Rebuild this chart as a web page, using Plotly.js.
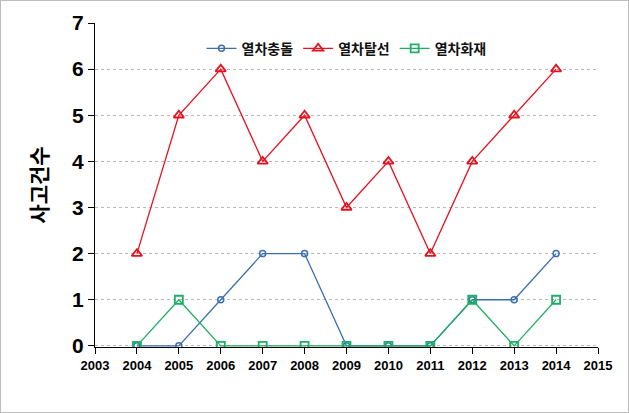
<!DOCTYPE html>
<html>
<head>
<meta charset="utf-8">
<script src="https://cdn.plot.ly/plotly-3.0.1.min.js"></script>
<style>
html,body{margin:0;padding:0;background:#fff;}
#chart{width:627px;height:411px;border:1px solid #bdbdbd;}
</style>
</head>
<body>
<div id="chart"></div>
<script>
const years = [2004, 2005, 2006, 2007, 2008, 2009, 2010, 2011, 2012, 2013, 2014];
const collision = [0, 0, 1, 2, 2, 0, 0, 0, 1, 1, 2];
const derailment = [2, 5, 6, 4, 5, 3, 4, 2, 4, 5, 6];
const fire = [0, 1, 0, 0, 0, 0, 0, 0, 1, 0, 1];
const seriesNames = ['열차충돌', '열차탈선', '열차화재'];
const xTicks = [2003, 2004, 2005, 2006, 2007, 2008, 2009, 2010, 2011, 2012, 2013, 2014, 2015];
const yTicks = [0, 1, 2, 3, 4, 5, 6, 7];

const kfont = '"Noto Sans CJK KR", "Liberation Sans", sans-serif';
const nfont = '"Liberation Sans", Arial, sans-serif';

const traces = [
  {x: years, y: collision, name: seriesNames[0], mode: 'lines+markers',
   line: {color: '#3C6FB0', width: 1.3},
   marker: {symbol: 'circle-open', size: 6, color: '#3C6FB0', line: {width: 1.5}}},
  {x: years, y: derailment, name: seriesNames[1], mode: 'lines+markers',
   line: {color: '#E8101E', width: 1.3},
   marker: {symbol: 'triangle-up-open', size: 9, color: '#E8101E', line: {width: 1.8}}},
  {x: years, y: fire, name: seriesNames[2], mode: 'lines+markers',
   line: {color: '#1DB064', width: 1.3},
   marker: {symbol: 'square-open', size: 8, color: '#1DB064', line: {width: 1.8}}}
];

const layout = {
  width: 627, height: 411,
  margin: {l: 94, r: 30, t: 22, b: 65},
  paper_bgcolor: '#fff', plot_bgcolor: '#fff',
  showlegend: true,
  legend: {orientation: 'h', x: 0.5, xanchor: 'center', y: 0.97, yanchor: 'top',
           font: {family: kfont, size: 14, color: '#111', weight: 'bold'},
           bgcolor: 'rgba(0,0,0,0)', itemwidth: 30, tracegroupgap: 0},
  xaxis: {range: [2003, 2015], tickvals: xTicks, ticktext: xTicks.map(String),
          showgrid: false, zeroline: false, showline: true, linecolor: '#000', linewidth: 1.2,
          ticks: 'outside', ticklen: 6, tickcolor: '#000', layer: 'below traces',
          tickfont: {family: nfont, size: 13, color: '#000', weight: 'bold'}},
  yaxis: {range: [-0.025, 7], tickvals: yTicks, ticktext: yTicks.map(String),
          showgrid: true, gridcolor: '#b8b8b8', griddash: 'dot', gridwidth: 1,
          zeroline: false, showline: true, linecolor: '#000', linewidth: 1.2,
          ticks: 'outside', ticklen: 6, tickcolor: '#000', layer: 'below traces',
          tickfont: {family: nfont, size: 21, color: '#000', weight: 'bold'},
          title: {text: '사고건수', standoff: 18, font: {family: kfont, size: 21, color: '#000', weight: 'bold'}}}
};

Plotly.newPlot('chart', traces, layout, {displayModeBar: false, staticPlot: true});
</script>
</body>
</html>
